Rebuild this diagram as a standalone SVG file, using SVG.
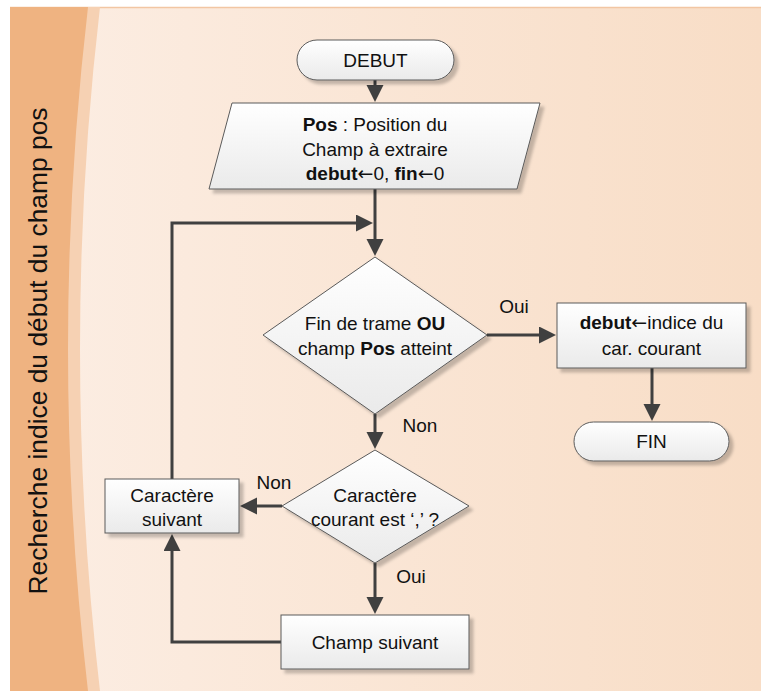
<svg xmlns="http://www.w3.org/2000/svg" width="761" height="691" viewBox="0 0 761 691">
<defs>
<linearGradient id="bg" x1="0" y1="0" x2="1" y2="0">
<stop offset="0" stop-color="#FCEEE4"/>
<stop offset="1" stop-color="#F8DDC6"/>
</linearGradient>
<linearGradient id="nodefill" x1="0" y1="0" x2="0" y2="1">
<stop offset="0" stop-color="#FFFFFF"/>
<stop offset="1" stop-color="#EAEAEA"/>
</linearGradient>
<filter id="shadow" x="-10%" y="-10%" width="130%" height="130%">
<feDropShadow dx="4" dy="4" stdDeviation="1.5" flood-color="#000000" flood-opacity="0.22"/>
</filter>
<marker id="arrow" markerUnits="userSpaceOnUse" markerWidth="18" markerHeight="18" refX="1" refY="8.5" orient="auto">
<path d="M0,0 L17,8.5 L0,17 Z" fill="#404040"/>
</marker>
</defs>
<style>
.node { fill: url(#nodefill); stroke: #5A5A5A; stroke-width: 1; filter: url(#shadow); }
.txt { font-family: "Liberation Sans", Arial, sans-serif; font-size: 19px; fill: #111111; text-anchor: middle; }
.lbl { font-family: "Liberation Sans", Arial, sans-serif; font-size: 19px; fill: #111111; text-anchor: middle; }
.b { font-weight: bold; }
.arr { font-family: "DejaVu Sans", sans-serif; font-size: 19px; font-weight: normal; }
.conn { fill: none; stroke: #404040; stroke-width: 3; marker-end: url(#arrow); }
</style>

<g id="background">
<rect x="0" y="0" width="761" height="691" fill="#FFFFFF"/>
<rect x="10" y="7" width="751" height="684" fill="url(#bg)"/>
<line x1="10" y1="7.5" x2="761" y2="7.5" stroke="#F2C6A3" stroke-width="1.5"/>
<path d="M10,7 L100,7 Q60,349 100,691 L10,691 Z" fill="#F6D1B3"/>
<path d="M10,7 L88,7 Q48,349 88,691 L10,691 Z" fill="#EFB381"/>
<text transform="translate(47,351) rotate(-90)" font-family="&quot;Liberation Sans&quot;, Arial, sans-serif" font-size="26.4" fill="#111111" text-anchor="middle">Recherche indice du début du champ pos</text>
</g>

<g id="connectors">
<path class="conn" d="M375,80 V86"/>
<path class="conn" d="M375,189 V240"/>
<path class="conn" d="M172,479 V223 H357"/>
<path class="conn" d="M487,335 H540"/>
<path class="conn" d="M652,368 V405"/>
<path class="conn" d="M375,414 V433"/>
<path class="conn" d="M282,506 H256"/>
<path class="conn" d="M375,563 V598"/>
<path class="conn" d="M281,642 H172 V550"/>
<text class="lbl" x="514" y="313">Oui</text>
<text class="lbl" x="420" y="432">Non</text>
<text class="lbl" x="274" y="489">Non</text>
<text class="lbl" x="411" y="583">Oui</text>
</g>

<g id="debut">
<rect class="node" x="297" y="40" width="157" height="40" rx="20" ry="20"/>
<text class="txt" x="375.5" y="67">DEBUT</text>
</g>

<g id="init">
<polygon class="node" points="232,103 540,103 517,189 209,189"/>
<text class="txt" x="375" y="131"><tspan class="b">Pos</tspan> : Position du</text>
<text class="txt" x="375" y="156">Champ à extraire</text>
<text class="txt" x="375" y="180"><tspan class="b">debut</tspan><tspan class="arr">←</tspan>0, <tspan class="b">fin</tspan><tspan class="arr">←</tspan>0</text>
</g>

<g id="test-fin">
<polygon class="node" points="375,257 487,335 375,414 263,335"/>
<text class="txt" x="375" y="330">Fin de trame <tspan class="b">OU</tspan></text>
<text class="txt" x="375" y="355">champ <tspan class="b">Pos</tspan> atteint</text>
</g>

<g id="set-debut">
<rect class="node" x="557" y="303" width="189" height="65"/>
<text class="txt" x="651.5" y="329"><tspan class="b">debut</tspan><tspan class="arr">←</tspan>indice du</text>
<text class="txt" x="651.5" y="355">car. courant</text>
</g>

<g id="fin">
<rect class="node" x="574" y="422" width="155" height="39" rx="19.5" ry="19.5"/>
<text class="txt" x="651.5" y="448">FIN</text>
</g>

<g id="test-virgule">
<polygon class="node" points="375,450 469,506 375,563 282,506"/>
<text class="txt" x="375" y="502">Caractère</text>
<text class="txt" x="375" y="526">courant est ‘,’ ?</text>
</g>

<g id="caractere-suivant">
<rect class="node" x="105" y="479" width="134" height="54"/>
<text class="txt" x="172" y="502">Caractère</text>
<text class="txt" x="172" y="526">suivant</text>
</g>

<g id="champ-suivant">
<rect class="node" x="281" y="615" width="188" height="54"/>
<text class="txt" x="375" y="649">Champ suivant</text>
</g>
</svg>
